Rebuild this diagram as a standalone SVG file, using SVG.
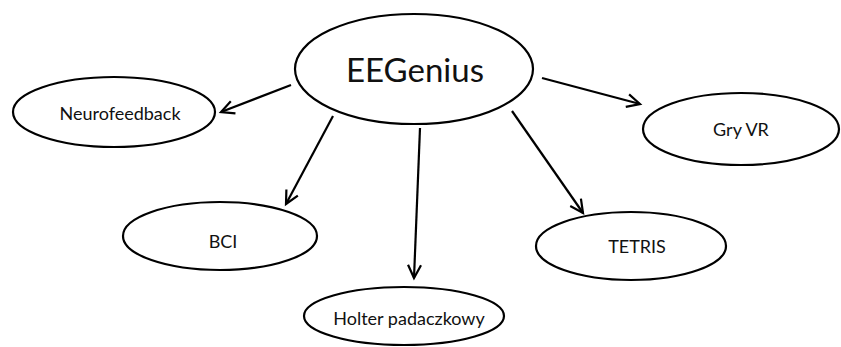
<svg xmlns="http://www.w3.org/2000/svg" width="841" height="347" viewBox="0 0 841 347">
<defs>
<style>
.node ellipse{fill:#fff;stroke:#000;stroke-width:2.2}
.node text{font-family:Lato,"Open Sans","Liberation Sans",sans-serif;fill:#111;text-anchor:middle}
.lbl{font-size:18px}
.conn line{stroke:#000;stroke-width:2.2;fill:none}
</style>
<marker id="arr" markerWidth="18" markerHeight="18" refX="14" refY="9" orient="auto" markerUnits="userSpaceOnUse">
<path d="M1,2.5 L14,9 L1,15.5" fill="none" stroke="#000" stroke-width="2.2" stroke-linejoin="miter"/>
</marker>
</defs>
<rect width="841" height="347" fill="#fff"/>
<g id="connectors" class="conn">
<line x1="291" y1="85" x2="221" y2="112" marker-end="url(#arr)"/>
<line x1="333" y1="116" x2="286" y2="204" marker-end="url(#arr)"/>
<line x1="420" y1="128" x2="414" y2="278" marker-end="url(#arr)"/>
<line x1="512" y1="111" x2="583" y2="213" marker-end="url(#arr)"/>
<line x1="542" y1="78" x2="640" y2="104" marker-end="url(#arr)"/>
</g>
<g id="EEGenius" class="node">
<ellipse cx="414" cy="69" rx="119" ry="55"/>
<text x="415" y="82" style="font-size:33px">EEGenius</text>
</g>
<g id="Neurofeedback" class="node">
<ellipse cx="114" cy="112" rx="101" ry="35"/>
<text class="lbl" x="120" y="120">Neurofeedback</text>
</g>
<g id="BCI" class="node">
<ellipse cx="220" cy="236" rx="97" ry="34"/>
<text class="lbl" x="223" y="248">BCI</text>
</g>
<g id="Holter" class="node">
<ellipse cx="404" cy="316" rx="100" ry="29"/>
<text class="lbl" x="409" y="325">Holter padaczkowy</text>
</g>
<g id="GryVR" class="node">
<ellipse cx="741" cy="129" rx="98" ry="36"/>
<text class="lbl" x="741" y="136">Gry VR</text>
</g>
<g id="TETRIS" class="node">
<ellipse cx="631" cy="246" rx="95" ry="34"/>
<text class="lbl" x="637" y="253">TETRIS</text>
</g>
</svg>
